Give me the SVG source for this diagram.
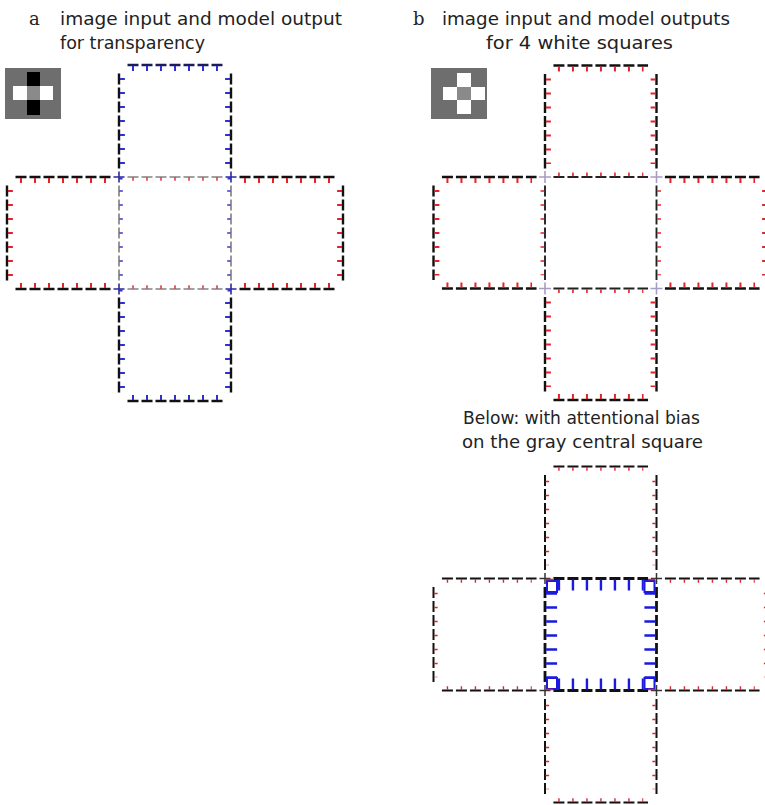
<svg xmlns="http://www.w3.org/2000/svg" width="765" height="805" viewBox="0 0 765 805">
<style>
.bg{fill:#fff}
.lbl{font-family:"DejaVu Serif","Liberation Serif",serif;font-size:18px;fill:#222}
.txt{font-family:"DejaVu Sans","Liberation Sans",sans-serif;font-size:18px;fill:#222}
.d{fill:none;stroke-dasharray:11 3}
.dB{stroke:#111;stroke-width:2.4}
.dN{stroke:#1c1c5a;stroke-width:2.4}
.dT{stroke:#444;stroke-width:1.1}
.dM{stroke:#222;stroke-width:1.9}
.dO{stroke:#111;stroke-width:2}
.dK{stroke:#111;stroke-width:2.8}
.tR{fill:none;stroke:#e3232b;stroke-width:5;stroke-dasharray:2 12}
.tBl{fill:none;stroke:#2f2fd0;stroke-width:5;stroke-dasharray:2 12}
.tRt{fill:none;stroke:#e3232b;stroke-width:3.5;stroke-dasharray:1.4 12.6}
.tBt{fill:none;stroke:#3a3ad0;stroke-width:3.5;stroke-dasharray:1.4 12.6}
.tRm{fill:none;stroke:#e3232b;stroke-width:3.8;stroke-dasharray:1.6 12.4}
.tBB{fill:none;stroke:#1a1ae0;stroke-width:11;stroke-dasharray:2.4 11.6}
.cx{stroke:#333;stroke-width:1.5}
.cxb{stroke:#2a2a9a;stroke-width:1.6}
.cp{stroke:#a99cc4;stroke-width:1.6}
.cbox{fill:none;stroke:#1a1ae0;stroke-width:2}
</style>
<rect class="bg" x="0" y="0" width="765" height="805"/>

<g id="titles">
<text class="lbl" x="29" y="25">a</text>
<text class="txt" x="60" y="25" textLength="282" lengthAdjust="spacingAndGlyphs">image input and model output</text>
<text class="txt" x="60" y="49" textLength="145" lengthAdjust="spacingAndGlyphs">for transparency</text>
<text class="lbl" x="413" y="25">b</text>
<text class="txt" x="442" y="25" textLength="288" lengthAdjust="spacingAndGlyphs">image input and model outputs</text>
<text class="txt" x="486" y="49" textLength="187" lengthAdjust="spacingAndGlyphs">for 4 white squares</text>
<text class="txt" x="463" y="424" textLength="237" lengthAdjust="spacingAndGlyphs">Below: with attentional bias</text>
<text class="txt" x="462" y="448" textLength="241" lengthAdjust="spacingAndGlyphs">on the gray central square</text>
</g>

<g id="input-a">
<rect x="5" y="68" width="56" height="51" fill="#6e6e6e"/>
<rect x="27" y="72" width="13" height="43" fill="#000"/>
<rect x="13" y="86" width="40" height="14" fill="#fff"/>
<rect x="27" y="86" width="13" height="14" fill="#8a8a8a"/>
</g>

<g id="input-b">
<rect x="431" y="68" width="56" height="51" fill="#6e6e6e"/>
<rect x="457" y="73" width="14" height="14" fill="#fff"/>
<rect x="443" y="87" width="14" height="13" fill="#fff"/>
<rect x="457" y="87" width="14" height="13" fill="#8a8a8a"/>
<rect x="471" y="87" width="14" height="13" fill="#fff"/>
<rect x="457" y="100" width="14" height="14" fill="#fff"/>
</g>

<g id="connectors">
<!-- ===== Panel a ===== -->
<g id="a-horizontal">
<line class="d dN" x1="127.5" y1="65" x2="222.5" y2="65"/><line class="tBl" x1="132" y1="68.4" x2="218" y2="68.4"/>
<line class="d dB" x1="15.5" y1="177" x2="110.5" y2="177"/><line class="tR" x1="20" y1="180.4" x2="106" y2="180.4"/>
<line class="d dT" x1="127.5" y1="177" x2="222.5" y2="177"/><line class="tRt" x1="132.3" y1="179.1" x2="217.7" y2="179.1"/>
<line class="d dB" x1="239.5" y1="177" x2="334.5" y2="177"/><line class="tR" x1="244" y1="180.4" x2="330" y2="180.4"/>
<line class="d dB" x1="15.5" y1="289" x2="110.5" y2="289"/><line class="tR" x1="20" y1="285.6" x2="106" y2="285.6"/>
<line class="d dT" x1="127.5" y1="289" x2="222.5" y2="289"/><line class="tRt" x1="132.3" y1="286.9" x2="217.7" y2="286.9"/>
<line class="d dB" x1="239.5" y1="289" x2="334.5" y2="289"/><line class="tR" x1="244" y1="285.6" x2="330" y2="285.6"/>
<line class="d dB" x1="127.5" y1="401" x2="222.5" y2="401"/><line class="tBl" x1="132" y1="397.6" x2="218" y2="397.6"/>
</g>
<g id="a-vertical">
<line class="d dB" x1="7" y1="185.5" x2="7" y2="280.5"/><line class="tR" x1="10.4" y1="190" x2="10.4" y2="276"/>
<line class="d dB" x1="119" y1="73.5" x2="119" y2="168.5"/><line class="tBl" x1="122.4" y1="78" x2="122.4" y2="164"/>
<line class="d dT" x1="119" y1="185.5" x2="119" y2="280.5"/><line class="tBt" x1="121.1" y1="190.3" x2="121.1" y2="275.7"/>
<line class="d dB" x1="119" y1="297.5" x2="119" y2="392.5"/><line class="tBl" x1="122.4" y1="302" x2="122.4" y2="388"/>
<line class="d dB" x1="231" y1="73.5" x2="231" y2="168.5"/><line class="tBl" x1="227.6" y1="78" x2="227.6" y2="164"/>
<line class="d dT" x1="231" y1="185.5" x2="231" y2="280.5"/><line class="tBt" x1="228.9" y1="190.3" x2="228.9" y2="275.7"/>
<line class="d dB" x1="231" y1="297.5" x2="231" y2="392.5"/><line class="tBl" x1="227.6" y1="302" x2="227.6" y2="388"/>
<line class="d dB" x1="343" y1="185.5" x2="343" y2="280.5"/><line class="tR" x1="339.6" y1="190" x2="339.6" y2="276"/>
</g>
<g id="a-corners">
<path class="cxb" d="M113.5 177H124.5M119 171.5V182.5M225.5 177H236.5M231 171.5V182.5M113.5 289H124.5M119 283.5V294.5M225.5 289H236.5M231 283.5V294.5"/>
<path stroke="#2f2fd0" stroke-width="2.2" d="M119 178.5h3.5M231 178.5h-3.5M119 290.5h3.5M231 290.5h-3.5"/>
</g>

<!-- ===== Panel b upper ===== -->
<g id="b-horizontal">
<line class="d dB" x1="553.44" y1="65.5" x2="648.06" y2="65.5"/><line class="tR" x1="557.94" y1="68.9" x2="643.56" y2="68.9"/>
<line class="d dB" x1="441.94" y1="177" x2="536.56" y2="177"/><line class="tR" x1="446.44" y1="180.4" x2="532.06" y2="180.4"/>
<line class="d dM" x1="553.44" y1="177" x2="648.06" y2="177"/><line class="tRm" x1="558.14" y1="174.4" x2="643.36" y2="174.4"/>
<line class="d dB" x1="664.94" y1="177" x2="759.56" y2="177"/><line class="tR" x1="669.44" y1="180.4" x2="755.06" y2="180.4"/>
<line class="d dB" x1="441.94" y1="288.5" x2="536.56" y2="288.5"/><line class="tR" x1="446.44" y1="285.1" x2="532.06" y2="285.1"/>
<line class="d dM" x1="553.44" y1="288.5" x2="648.06" y2="288.5"/><line class="tRm" x1="558.14" y1="291.1" x2="643.36" y2="291.1"/>
<line class="d dB" x1="664.94" y1="288.5" x2="759.56" y2="288.5"/><line class="tR" x1="669.44" y1="285.1" x2="755.06" y2="285.1"/>
<line class="d dB" x1="553.44" y1="400" x2="648.06" y2="400"/><line class="tR" x1="557.94" y1="396.6" x2="643.56" y2="396.6"/>
</g>
<g id="b-vertical">
<line class="d dB" x1="433.5" y1="185.44" x2="433.5" y2="280.06"/><line class="tR" x1="436.9" y1="189.94" x2="436.9" y2="275.56"/>
<line class="d dB" x1="545" y1="73.94" x2="545" y2="168.56"/><line class="tR" x1="548.4" y1="78.44" x2="548.4" y2="164.06"/>
<line class="d dM" x1="545" y1="185.44" x2="545" y2="280.06"/><line class="tRm" x1="542.4" y1="190.14" x2="542.4" y2="275.36"/>
<line class="d dB" x1="545" y1="296.94" x2="545" y2="391.56"/><line class="tR" x1="548.4" y1="301.44" x2="548.4" y2="387.06"/>
<line class="d dB" x1="656.5" y1="73.94" x2="656.5" y2="168.56"/><line class="tR" x1="653.1" y1="78.44" x2="653.1" y2="164.06"/>
<line class="d dM" x1="656.5" y1="185.44" x2="656.5" y2="280.06"/><line class="tRm" x1="659.1" y1="190.14" x2="659.1" y2="275.36"/>
<line class="d dB" x1="656.5" y1="296.94" x2="656.5" y2="391.56"/><line class="tR" x1="653.1" y1="301.44" x2="653.1" y2="387.06"/>
<line class="d dB" x1="768" y1="185.44" x2="768" y2="280.06"/><line class="tR" x1="764.6" y1="189.94" x2="764.6" y2="275.56"/>
</g>
<g id="b-corners">
<path class="cp" d="M539 177H551M545 171V183M650.5 177H662.5M656.5 171V183M539 288.5H551M545 282.5V294.5M650.5 288.5H662.5M656.5 282.5V294.5"/>
</g>

<!-- ===== Panel b lower (attention) ===== -->
<g id="c-horizontal">
<line class="d dO" x1="553.44" y1="466.5" x2="648.06" y2="466.5"/><line class="tRt" x1="558.24" y1="468.9" x2="643.26" y2="468.9"/>
<line class="d dO" x1="441.94" y1="578.5" x2="536.56" y2="578.5"/><line class="tRt" x1="446.74" y1="580.9" x2="531.76" y2="580.9"/>
<line class="d dK" x1="553.44" y1="578.5" x2="648.06" y2="578.5"/><line class="tBB" x1="557.74" y1="585.1" x2="643.76" y2="585.1"/>
<line class="d dO" x1="664.94" y1="578.5" x2="759.56" y2="578.5"/><line class="tRt" x1="669.74" y1="580.9" x2="754.76" y2="580.9"/>
<line class="d dO" x1="441.94" y1="690.5" x2="536.56" y2="690.5"/><line class="tRt" x1="446.74" y1="688.1" x2="531.76" y2="688.1"/>
<line class="d dK" x1="553.44" y1="690.5" x2="648.06" y2="690.5"/><line class="tBB" x1="557.74" y1="683.9" x2="643.76" y2="683.9"/>
<line class="d dO" x1="664.94" y1="690.5" x2="759.56" y2="690.5"/><line class="tRt" x1="669.74" y1="688.1" x2="754.76" y2="688.1"/>
<line class="d dO" x1="553.44" y1="802.5" x2="648.06" y2="802.5"/><line class="tRt" x1="558.24" y1="800.1" x2="643.26" y2="800.1"/>
</g>
<g id="c-vertical">
<line class="d dO" x1="433.5" y1="587" x2="433.5" y2="682"/><line class="tRt" x1="435.9" y1="592.8" x2="435.9" y2="677.2"/>
<line class="d dO" x1="545" y1="475" x2="545" y2="570"/><line class="tRt" x1="547.4" y1="480.8" x2="547.4" y2="565.2"/>
<line class="d dK" x1="545" y1="587" x2="545" y2="682"/><line class="tBB" x1="551.6" y1="592.3" x2="551.6" y2="677.7"/>
<line class="d dO" x1="545" y1="699" x2="545" y2="794"/><line class="tRt" x1="547.4" y1="704.8" x2="547.4" y2="789.2"/>
<line class="d dO" x1="656.5" y1="475" x2="656.5" y2="570"/><line class="tRt" x1="654.1" y1="480.8" x2="654.1" y2="565.2"/>
<line class="d dK" x1="656.5" y1="587" x2="656.5" y2="682"/><line class="tBB" x1="649.9" y1="592.3" x2="649.9" y2="677.7"/>
<line class="d dO" x1="656.5" y1="699" x2="656.5" y2="794"/><line class="tRt" x1="654.1" y1="704.8" x2="654.1" y2="789.2"/>
<line class="d dO" x1="768" y1="587" x2="768" y2="682"/><line class="tRt" x1="765.6" y1="592.8" x2="765.6" y2="677.2"/>
</g>
<g id="c-corners">
<path class="cx" stroke-width="2.4" d="M539.5 578.5H550.5M545 573V584M651 578.5H662M656.5 573V584M539.5 690.5H550.5M545 685V696M651 690.5H662M656.5 685V696"/>
<rect class="cbox" x="547" y="581" width="10" height="11"/>
<rect class="cbox" x="644.5" y="581" width="10" height="11"/>
<rect class="cbox" x="547" y="678" width="10" height="11"/>
<rect class="cbox" x="644.5" y="678" width="10" height="11"/>
<path stroke="#e3232b" stroke-width="1.5" d="M546 579.5h7M648 579.5h7M546 689.5h7M648 689.5h7"/>
</g>
</g>
</svg>
